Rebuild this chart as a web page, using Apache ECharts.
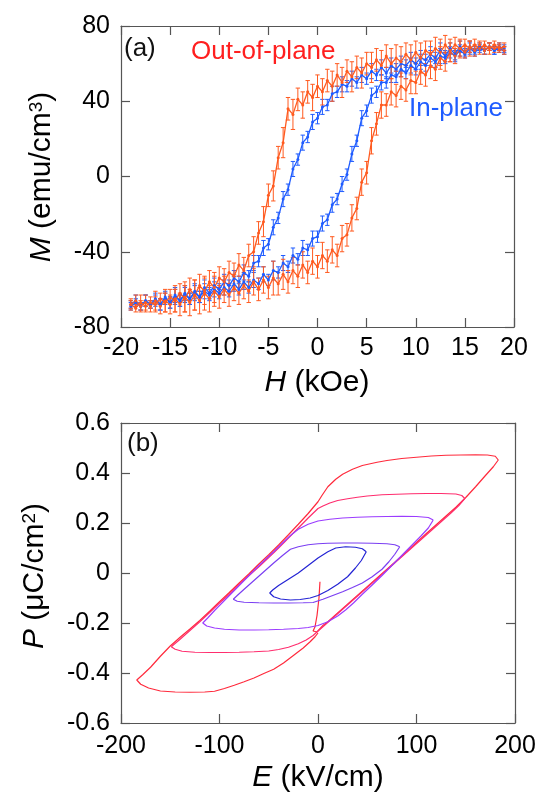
<!DOCTYPE html>
<html><head><meta charset="utf-8">
<script src="https://cdn.jsdelivr.net/npm/echarts@6/dist/echarts.min.js"></script>
<style>html,body{margin:0;padding:0;background:#fff}#c{width:540px;height:794px}</style>
</head><body><div id="c"></div>
<script>
// ---------- Panel (a): M-H loops, [H (kOe), M (emu/cm3), error] ----------
const outPlaneUpper = [[-19,-68,3],[-18.5,-70,2],[-18,-67,4],[-17.5,-69,3],[-17,-67,3],[-16.5,-68,4],[-16,-65,3],[-15.5,-67,5],[-15,-64,4],[-14.5,-66,6],[-14,-62,5],[-13.5,-65,7],[-13,-60,6],[-12.5,-63,8],[-12,-58,6],[-11.5,-61,7],[-11,-56,6],[-10.5,-59,8],[-10,-54,6],[-9.5,-56,7],[-9,-51,6],[-8.5,-53,7],[-8,-47,6],[-7.5,-50,7],[-7,-42,6],[-6.5,-40,8],[-6,-30,6],[-5.5,-24,8],[-5,-10,6],[-4.5,-5,8],[-4,10,6],[-3.5,18,8],[-3,36,6],[-2.5,33,8],[-2,41,6],[-1.5,38,7],[-1,45,6],[-0.5,42,7],[0,48,6],[0.5,45,7],[1,51,6],[1.5,48,8],[2,54,6],[2.5,50,8],[3,56,6],[3.5,53,8],[4,58,6],[4.5,55,8],[5,60,6],[5.5,58,8],[6,62,6],[6.5,59,8],[7,64,6],[7.5,60,8],[8,63,7],[8.5,61,8],[9,65,6],[9.5,62,8],[10,66,6],[10.5,63,8],[11,67,5],[11.5,65,7],[12,68,6],[12.5,66,7],[13,70,5],[13.5,67,6],[14,70,4],[14.5,68,5],[15,70,3],[15.5,68,4],[16,70,3],[16.5,68,3],[17,70,2],[17.5,68,3],[18,70,2],[18.5,68,2],[19,69,2]];
const outPlaneLower = [[-19,-68,2],[-18.5,-66,3],[-18,-69,3],[-17.5,-67,4],[-17,-69,3],[-16.5,-66,5],[-16,-69,4],[-15.5,-66,6],[-15,-68,5],[-14.5,-65,7],[-14,-68,6],[-13.5,-64,8],[-13,-67,7],[-12.5,-63,8],[-12,-66,7],[-11.5,-62,9],[-11,-65,7],[-10.5,-61,8],[-10,-64,6],[-9.5,-60,7],[-9,-63,6],[-8.5,-59,7],[-8,-62,6],[-7.5,-58,7],[-7,-61,6],[-6.5,-56,7],[-6,-60,6],[-5.5,-55,7],[-5,-59,6],[-4.5,-54,9],[-4,-57,6],[-3.5,-52,8],[-3,-56,6],[-2.5,-50,7],[-2,-53,6],[-1.5,-47,7],[-1,-51,6],[-0.5,-45,7],[0,-48,6],[0.5,-42,7],[1,-45,6],[1.5,-39,7],[2,-42,6],[2.5,-33,7],[3,-31,6],[3.5,-22,7],[4,-17,6],[4.5,-3,7],[5,2,6],[5.5,19,7],[6,28,6],[6.5,38,7],[7,38,6],[7.5,45,7],[8,43,6],[8.5,48,7],[9,46,6],[9.5,51,7],[10,50,6],[10.5,56,7],[11,54,6],[11.5,59,7],[12,57,6],[12.5,63,6],[13,61,5],[13.5,66,5],[14,64,4],[14.5,68,4],[15,66,3],[15.5,69,3],[16,67,3],[16.5,70,2],[17,67,2],[17.5,69,2],[18,68,2],[18.5,69,2],[19,67,2]];
const inPlaneUpper = [[-19,-68,2],[-18.5,-66,3],[-18,-69,2],[-17.5,-66,3],[-17,-68,2],[-16.5,-65,3],[-16,-68,3],[-15.5,-64,3],[-15,-67,3],[-14.5,-63,4],[-14,-66,3],[-13.5,-62,4],[-13,-65,3],[-12.5,-61,4],[-12,-64,3],[-11.5,-59,4],[-11,-62,3],[-10.5,-58,4],[-10,-60,3],[-9.5,-56,4],[-9,-58,3],[-8.5,-54,4],[-8,-56,3],[-7.5,-51,4],[-7,-53,3],[-6.5,-46,4],[-6,-45,3],[-5.5,-38,4],[-5,-36,3],[-4.5,-27,4],[-4,-22,3],[-3.5,-12,4],[-3,-7,3],[-2.5,4,4],[-2,9,3],[-1.5,18,4],[-1,21,3],[-0.5,29,4],[0,31,3],[0.5,37,4],[1,38,3],[1.5,44,4],[2,45,3],[2.5,49,4],[3,48,3],[3.5,52,4],[4,50,3],[4.5,54,4],[5,52,3],[5.5,56,4],[6,54,3],[6.5,58,4],[7,55,3],[7.5,59,4],[8,57,3],[8.5,60,4],[9,59,3],[9.5,62,4],[10,60,3],[10.5,63,4],[11,62,3],[11.5,65,4],[12,63,3],[12.5,67,4],[13,64,3],[13.5,68,3],[14,65,3],[14.5,69,3],[15,66,2],[15.5,69,3],[16,67,2],[16.5,69,2],[17,67,2],[17.5,69,2],[18,67,2],[18.5,68,2],[19,67,2]];
const inPlaneLower = [[-19,-69,2],[-18.5,-67,2],[-18,-69,2],[-17.5,-66,3],[-17,-68,2],[-16.5,-66,3],[-16,-68,3],[-15.5,-65,3],[-15,-67,3],[-14.5,-64,4],[-14,-66,3],[-13.5,-63,4],[-13,-65,3],[-12.5,-62,4],[-12,-64,3],[-11.5,-61,4],[-11,-63,3],[-10.5,-60,4],[-10,-62,3],[-9.5,-59,4],[-9,-61,3],[-8.5,-57,4],[-8,-60,3],[-7.5,-56,4],[-7,-59,3],[-6.5,-55,4],[-6,-57,3],[-5.5,-52,4],[-5,-55,3],[-4.5,-50,5],[-4,-51,3],[-3.5,-46,4],[-3,-48,3],[-2.5,-42,4],[-2,-44,3],[-1.5,-38,4],[-1,-39,3],[-0.5,-33,4],[0,-32,3],[0.5,-25,4],[1,-23,3],[1.5,-15,4],[2,-12,3],[2.5,-4,4],[3,1,3],[3.5,12,4],[4,19,3],[4.5,31,4],[5,35,3],[5.5,43,4],[6,45,3],[6.5,50,4],[7,50,3],[7.5,54,4],[8,53,3],[8.5,57,4],[9,55,3],[9.5,59,4],[10,57,3],[10.5,61,4],[11,59,3],[11.5,63,4],[12,61,3],[12.5,64,4],[13,63,3],[13.5,66,3],[14,64,3],[14.5,67,3],[15,65,2],[15.5,68,3],[16,66,2],[16.5,68,2],[17,67,2],[17.5,69,2],[18,67,2],[18.5,69,2],[19,68,2]];

// ---------- Panel (b): P-E loops, [E (kV/cm), P (uC/cm2)] ----------
const loop183 = [[2,-0.035],[1,-0.1],[-1,-0.17],[-3,-0.215],[-5,-0.232],[-1,-0.236],[5,-0.21],[10,-0.195],[20,-0.16],[30,-0.125],[40,-0.09],[50,-0.055],[60,-0.02],[70,0.015],[80,0.05],[90,0.085],[100,0.122],[110,0.158],[120,0.193],[130,0.228],[140,0.263],[150,0.302],[160,0.345],[170,0.39],[178,0.425],[183,0.452],[180,0.467],[172,0.472],[160,0.473],[145,0.472],[130,0.471],[115,0.468],[100,0.463],[85,0.458],[70,0.45],[60,0.443],[45,0.43],[35,0.415],[25,0.395],[18,0.375],[10,0.345],[4,0.31],[0,0.285],[-10,0.238],[-20,0.195],[-30,0.153],[-40,0.112],[-50,0.073],[-60,0.036],[-70,-0.003],[-80,-0.04],[-90,-0.078],[-100,-0.115],[-110,-0.153],[-120,-0.19],[-130,-0.224],[-140,-0.257],[-150,-0.292],[-160,-0.333],[-170,-0.377],[-178,-0.407],[-184,-0.428],[-180,-0.445],[-172,-0.46],[-160,-0.472],[-145,-0.476],[-130,-0.477],[-115,-0.476],[-105,-0.473],[-95,-0.462],[-85,-0.449],[-75,-0.435],[-65,-0.42],[-55,-0.402],[-45,-0.385],[-35,-0.36],[-25,-0.33],[-15,-0.3],[-8,-0.275],[-3,-0.255],[0,-0.24]];
const loop150 = [[-149,-0.295],[-145,-0.305],[-138,-0.313],[-125,-0.317],[-110,-0.318],[-95,-0.318],[-80,-0.317],[-65,-0.315],[-50,-0.312],[-40,-0.306],[-30,-0.297],[-20,-0.283],[-12,-0.268],[-5,-0.25],[0,-0.232],[5,-0.215],[15,-0.18],[25,-0.145],[35,-0.11],[45,-0.075],[55,-0.04],[65,-0.005],[75,0.03],[85,0.065],[95,0.1],[105,0.135],[115,0.17],[125,0.205],[135,0.24],[143,0.27],[149,0.298],[146,0.31],[140,0.316],[125,0.318],[110,0.318],[95,0.317],[80,0.315],[65,0.313],[50,0.308],[40,0.303],[30,0.297],[20,0.29],[12,0.28],[5,0.268],[0,0.258],[-10,0.22],[-20,0.18],[-30,0.14],[-40,0.1],[-50,0.062],[-60,0.025],[-70,-0.01],[-80,-0.045],[-90,-0.085],[-100,-0.12],[-110,-0.158],[-120,-0.195],[-130,-0.23],[-140,-0.265],[-149,-0.295]];
const loop117 = [[117,0.212],[112,0.222],[100,0.226],[85,0.227],[70,0.226],[55,0.225],[40,0.223],[25,0.22],[12,0.215],[0,0.208],[-10,0.195],[-20,0.175],[-28,0.15],[-36,0.12],[-45,0.085],[-55,0.048],[-65,0.01],[-75,-0.03],[-85,-0.07],[-95,-0.11],[-105,-0.15],[-112,-0.18],[-117,-0.2],[-113,-0.212],[-105,-0.22],[-95,-0.225],[-80,-0.228],[-65,-0.228],[-50,-0.227],[-35,-0.225],[-20,-0.222],[-10,-0.218],[0,-0.21],[10,-0.195],[20,-0.172],[28,-0.148],[36,-0.12],[45,-0.085],[55,-0.048],[65,-0.01],[75,0.03],[85,0.07],[95,0.11],[105,0.15],[112,0.18],[117,0.212]];
const loop85 = [[83,0.105],[78,0.113],[70,0.117],[55,0.119],[40,0.12],[25,0.12],[10,0.119],[0,0.117],[-10,0.113],[-20,0.105],[-28,0.095],[-36,0.07],[-45,0.04],[-55,0.005],[-65,-0.03],[-75,-0.065],[-82,-0.09],[-86,-0.105],[-82,-0.113],[-75,-0.117],[-60,-0.119],[-45,-0.12],[-30,-0.12],[-15,-0.119],[-5,-0.118],[5,-0.105],[15,-0.09],[25,-0.075],[35,-0.058],[45,-0.04],[55,-0.015],[65,0.015],[72,0.045],[78,0.075],[83,0.105]];
const loop50 = [[49,0.085],[45,0.097],[38,0.103],[28,0.105],[18,0.1],[10,0.085],[0,0.06],[-10,0.03],[-20,0.0],[-30,-0.025],[-40,-0.05],[-46,-0.068],[-49,-0.08],[-45,-0.095],[-38,-0.104],[-28,-0.108],[-18,-0.106],[-8,-0.1],[0,-0.09],[10,-0.07],[20,-0.045],[30,-0.015],[38,0.02],[44,0.05],[49,0.085]];

const FONT = "'Liberation Sans', Arial, sans-serif";
const FRAME = '#555';
const chart = echarts.init(document.getElementById('c'), null, {renderer:'canvas'});

function axisBase(grid, min, max, interval, pos, labels, margin, fmt) {
  return {
    type:'value', gridIndex:grid, min, max, interval, position:pos,
    axisLine:{show:true, onZero:false, lineStyle:{color:FRAME, width:1.2}},
    axisTick:{show:true, inside:true, length:9, lineStyle:{color:FRAME, width:1.2}},
    axisLabel:{show:labels, color:'#000', fontSize:25, fontFamily:FONT, margin:margin, formatter:fmt},
    splitLine:{show:false}, minorTick:{show:false}
  };
}
function errBars(data, color) {
  return {
    type:'custom', xAxisIndex:0, yAxisIndex:0, data:data, silent:true,
    encode:{x:0, y:1},
    renderItem:(params, api) => {
      const x = api.value(0), y = api.value(1), e = api.value(2);
      const hi = api.coord([x, y+e]), lo = api.coord([x, y-e]);
      const w = 2.2;
      const st = {stroke:color, lineWidth:1};
      return {type:'group', children:[
        {type:'line', shape:{x1:hi[0],y1:hi[1],x2:lo[0],y2:lo[1]}, style:st},
        {type:'line', shape:{x1:hi[0]-w,y1:hi[1],x2:hi[0]+w,y2:hi[1]}, style:st},
        {type:'line', shape:{x1:lo[0]-w,y1:lo[1],x2:lo[0]+w,y2:lo[1]}, style:st}
      ]};
    }
  };
}
function mLine(data, color) {
  return {type:'line', xAxisIndex:0, yAxisIndex:0, data:data.map(d=>[d[0],d[1]]),
    symbol:'circle', symbolSize:3, showSymbol:true, itemStyle:{color:color},
    lineStyle:{color:color, width:1.3}, silent:true};
}
function pLine(data, color) {
  return {type:'line', xAxisIndex:2, yAxisIndex:2, data:data, showSymbol:false,
    lineStyle:{color:color, width:1.2}, silent:true};
}
const BLUE = '#1f5cff', ORANGE = '#ff5a1f';
const fmtP = v => { const r = Math.round(v*10)/10; return r === 0 ? '0' : r.toFixed(1); };

chart.setOption({
  animation:false,
  backgroundColor:'#fff',
  grid:[
    {left:121, top:26, width:393, height:301, outerBoundsMode:'none', containLabel:false},
    {left:121, top:423, width:394, height:300, outerBoundsMode:'none', containLabel:false}
  ],
  xAxis:[
    axisBase(0,-20,20,5,'bottom',true,9),
    axisBase(0,-20,20,5,'top',false,9),
    axisBase(1,-200,200,100,'bottom',true,11),
    axisBase(1,-200,200,100,'top',false,11)
  ],
  yAxis:[
    axisBase(0,-80,80,40,'left',true,11),
    axisBase(0,-80,80,40,'right',false,11),
    axisBase(1,-0.6,0.6,0.2,'left',true,11,fmtP),
    axisBase(1,-0.6,0.6,0.2,'right',false,11)
  ],
  series:[
    errBars(inPlaneUpper, BLUE), errBars(inPlaneLower, BLUE),
    mLine(inPlaneUpper, BLUE), mLine(inPlaneLower, BLUE),
    errBars(outPlaneUpper, ORANGE), errBars(outPlaneLower, ORANGE),
    mLine(outPlaneUpper, ORANGE), mLine(outPlaneLower, ORANGE),
    pLine(loop183, '#ff2a3c'), pLine(loop150, '#ff2d6e'), pLine(loop117, '#9b3cff'),
    pLine(loop85, '#7b3ff2'), pLine(loop50, '#2424d4')
  ],
  graphic:[
    {type:'text', style:{text:'(a)', x:124, y:49, verticalAlign:'middle', fontSize:26, fontFamily:FONT, fill:'#111'}},
    {type:'text', style:{text:'Out-of-plane', x:191, y:52, verticalAlign:'middle', fontSize:26, fontFamily:FONT, fill:'#ff1f1f'}},
    {type:'text', style:{text:'In-plane', x:409, y:109, verticalAlign:'middle', fontSize:26, fontFamily:FONT, fill:'#1f5cff'}},
    {type:'text', style:{text:'(b)', x:127, y:444, verticalAlign:'middle', fontSize:26, fontFamily:FONT, fill:'#111'}},
    {type:'text', style:{text:'{i|H} (kOe)', x:317, y:383, align:'center', verticalAlign:'middle', fontSize:30, fontFamily:FONT, fill:'#000',
      rich:{i:{fontStyle:'italic', fontSize:30, fontFamily:FONT, fill:'#000'}}}},
    {type:'text', style:{text:'{i|E} (kV/cm)', x:318, y:778, align:'center', verticalAlign:'middle', fontSize:30, fontFamily:FONT, fill:'#000',
      rich:{i:{fontStyle:'italic', fontSize:30, fontFamily:FONT, fill:'#000'}}}},
    {type:'text', x:42, y:177, rotation:Math.PI/2, style:{text:'{i|M} (emu/cm{s|3})', x:0, y:0, align:'center', verticalAlign:'middle', fontSize:30, fontFamily:FONT, fill:'#000',
      rich:{i:{fontStyle:'italic', fontSize:30, fontFamily:FONT, fill:'#000'}, s:{fontSize:19, fontFamily:FONT, fill:'#000', verticalAlign:'top'}}}},
    {type:'text', x:35, y:576, rotation:Math.PI/2, style:{text:'{i|P} (μC/cm{s|2})', x:0, y:0, align:'center', verticalAlign:'middle', fontSize:30, fontFamily:FONT, fill:'#000',
      rich:{i:{fontStyle:'italic', fontSize:30, fontFamily:FONT, fill:'#000'}, s:{fontSize:19, fontFamily:FONT, fill:'#000', verticalAlign:'top'}}}}
  ]
});
</script></body></html>
